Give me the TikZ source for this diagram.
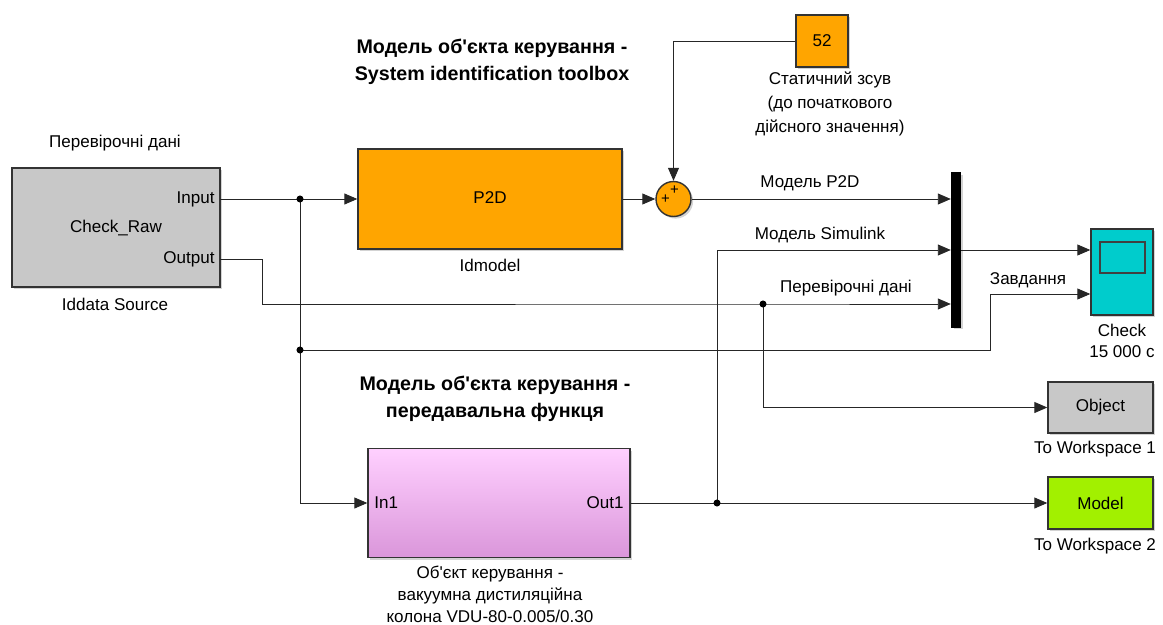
\documentclass[tikz,border=0pt]{standalone}
\usepackage{fontspec}
\setmainfont{Liberation Sans}[Ligatures=TeXOff]
\usetikzlibrary{arrows.meta,shadows}

\definecolor{blkgray}{HTML}{C8C8C8}
\definecolor{blkorange}{HTML}{FFA500}
\definecolor{blkcyan}{HTML}{00CCCC}
\definecolor{blkgreen}{HTML}{A2F000}
\definecolor{pinktop}{HTML}{FFD0FF}
\definecolor{pinkbot}{HTML}{DA96DA}

\tikzset{
  blk/.style={draw=black!80, line width=0.8pt, inner sep=0pt,
    drop shadow={shadow xshift=1.2pt, shadow yshift=-1.2pt, opacity=0.35}},
  sig/.style={draw=black!85, line width=0.5pt},
  sigarr/.style={sig, -{Triangle[length=2.6mm,width=2.2mm]}},
  lbl/.style={font=\fontsize{9.7}{13.5}\selectfont, align=center, inner sep=0pt},
  ttl/.style={font=\fontsize{11.2}{15.4}\selectfont\bfseries, align=center, inner sep=0pt},
  jdot/.style={circle, fill=black, inner sep=0pt, minimum size=4pt}
}

\begin{document}
\begin{tikzpicture}[x=0.02cm, y=-0.02cm]
  \useasboundingbox (0,0) rectangle (1163,625);

  % blocks
  \node[blk, fill=blkgray, minimum width=4.16cm, minimum height=2.38cm] (src) at (116,227.5) {};
  \node[blk, fill=blkorange, minimum width=5.28cm, minimum height=2.0cm] (p2d) at (490,199) {};
  \node[blk, fill=blkorange, circle, minimum size=0.7cm] (sumc) at (673.5,199) {};
  \node[blk, fill=blkorange, minimum width=1.04cm, minimum height=1.04cm] (konst) at (822,41) {};
  \node[blk, fill=black, draw=black, minimum width=0.18cm, minimum height=3.08cm] (mux) at (956,250) {};
  \node[blk, fill=blkcyan, minimum width=1.24cm, minimum height=1.72cm] (scope) at (1122,272) {};
  \node[blk, fill=blkgray, minimum width=2.1cm, minimum height=1.02cm] (obj) at (1100.5,407.5) {};
  \node[blk, fill=blkgreen, minimum width=2.1cm, minimum height=1.04cm] (mdl) at (1100.5,503) {};
  \node[blk, top color=pinktop, bottom color=pinkbot, minimum width=5.24cm, minimum height=2.18cm] (subsys) at (499,503) {};

  \draw[draw=black!75, line width=0.6pt] (1100,242) rectangle (1145,273);

  % ports and junctions
  \coordinate (src-in) at (220,199);
  \coordinate (src-out) at (220,259);
  \coordinate (j1) at (300,199);
  \coordinate (j2) at (300,350);
  \coordinate (j3) at (763,304);
  \coordinate (j4) at (717,503);

  % texts in blocks
  \node[lbl] (t-raw) at (116,228) {Check\_Raw};
  \node[lbl, anchor=east] (t-in) at (215,199) {Input};
  \node[lbl, anchor=east] (t-out) at (215,259) {Output};
  \node[lbl] (t-p2d) at (490,198) {P2D};
  \node[lbl] (t-52) at (konst) {52};
  \node[lbl, font=\fontsize{8.5}{9}\selectfont] (t-pl1) at (674.5,190) {+};
  \node[lbl, font=\fontsize{8.5}{9}\selectfont] (t-pl2) at (665.5,199.5) {+};
  \node[lbl] (t-obj) at (obj) {Object};
  \node[lbl] (t-mdl) at (mdl) {Model};
  \node[lbl, anchor=west] (t-in1) at (374,503) {In1};
  \node[lbl, anchor=east] (t-out1) at (624,503) {Out1};

  % captions
  \node[lbl] (c-chk) at (115,143) {Перевірочні дані};
  \node[lbl] (c-src) at (115,304) {Iddata Source};
  \node[lbl] (c-p2d) at (490,265) {Idmodel};
  \node[lbl] (c-52) at (830,104) {Статичний зсув\\(до початкового\\дійсного значення)};
  \node[lbl, font=\fontsize{9.7}{12}\selectfont] (c-scope) at (1122,341) {Check\\15 000 с};
  \node[lbl] (c-obj) at (1095,449) {To Workspace 1};
  \node[lbl] (c-mdl) at (1095,546) {To Workspace 2};
  \node[lbl, font=\fontsize{9.7}{12.6}\selectfont] (c-sub) at (490,594) {Об'єкт керування -\\вакуумна дистиляційна\\колона VDU-80-0.005/0.30};
  \node[ttl] (ttl-a) at (492,61.5) {Модель об'єкта керування -\\System identification toolbox};
  \node[ttl] (ttl-b) at (495,398.5) {Модель об'єкта керування -\\передавальна функця};

  % signal labels
  \node[lbl] (s-p2d) at (810,183) {Модель P2D};
  \node[lbl] (s-sim) at (820,235) {Модель Simulink};
  \node[lbl] (s-chk) at (846,288) {Перевірочні дані};
  \node[lbl] (s-task) at (1028,280) {Завдання};

  % connections
  \draw[sigarr] (src-in) -- (p2d.west);
  \draw[sigarr] (p2d.east) -- (sumc.west);
  \draw[sigarr] (konst.west) -| (sumc.north);
  \draw[sigarr] (sumc.east) -- (sumc.east -| mux.west);
  \draw[sigarr] (j4) |- (mux.west);
  \draw[sigarr] (src-out) -- ++(42,0) |- (j3) -- (j3 -| mux.west);
  \draw[sigarr] (mux.east) -- (mux.east -| scope.west);
  \draw[sigarr] (j2) -| (990,294) -- (scope.west |- 990,294);
  \draw[sig] (j1) -- (j2);
  \draw[sigarr] (j2) |- (subsys.west);
  \draw[sigarr] (j3) |- (obj.west);
  \draw[sigarr] (subsys.east) -- (mdl.west);

  \foreach \j in {j1,j2,j3,j4}
    \node[jdot] at (\j) {};
\end{tikzpicture}
\end{document}
